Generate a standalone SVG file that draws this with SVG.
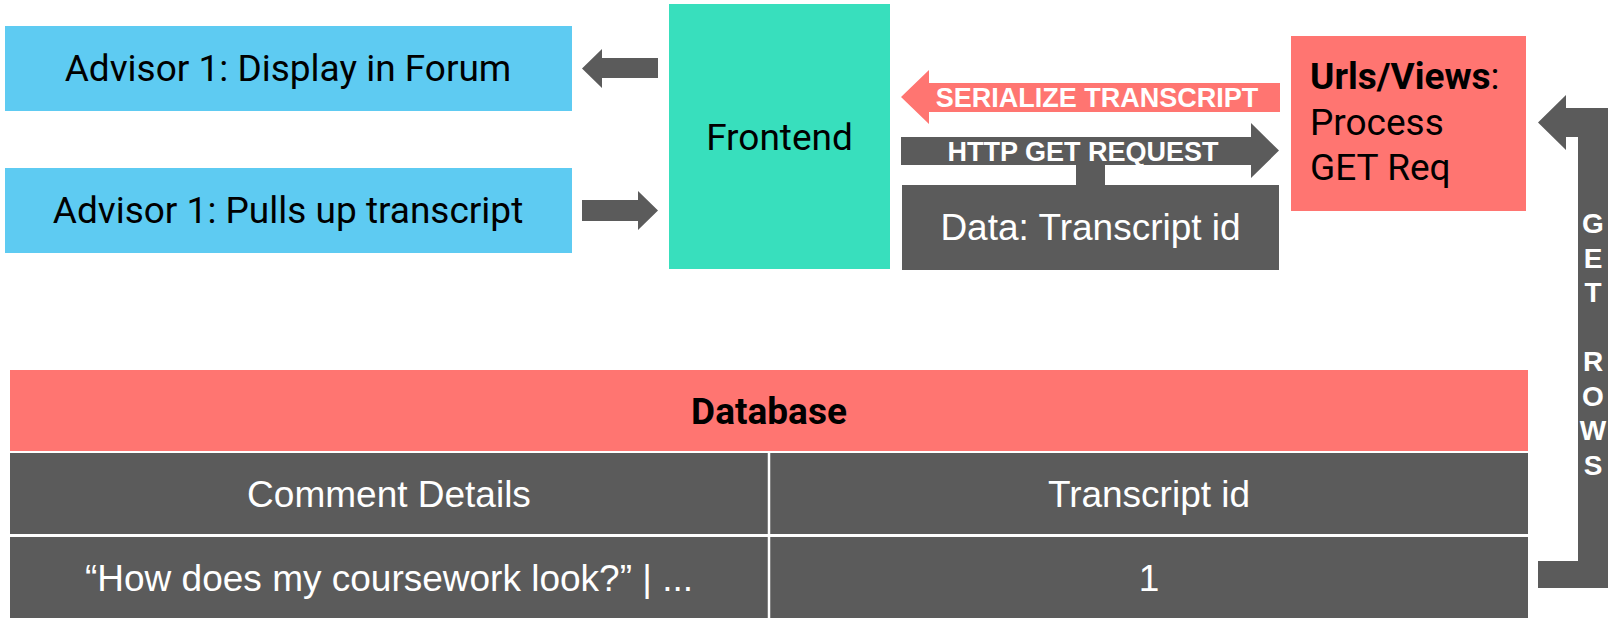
<svg xmlns="http://www.w3.org/2000/svg" width="1614" height="621" viewBox="0 0 1614 621">
<style>
.blue{fill:#5ECBF2}
.green{fill:#38DFBD}
.salmon{fill:#FF7571}
.dark{fill:#5B5B5B}
.t{font-family:Roboto,"Liberation Sans",sans-serif;font-size:37px;fill:#000}
.w{font-family:"Liberation Sans",Arial,sans-serif;font-size:37px;fill:#fff;text-anchor:middle}
.lbl{font-family:"Liberation Sans",Arial,sans-serif;font-size:27px;font-weight:bold;fill:#fff;text-anchor:middle}
.vl{font-family:"Liberation Sans",Arial,sans-serif;font-size:28px;font-weight:bold;fill:#fff;text-anchor:middle}
.c{text-anchor:middle}
.sep{stroke:#fff;stroke-width:2.5}
</style>
<rect width="1614" height="621" fill="#fff"/>
<g id="advisor-display">
<rect class="blue" x="5" y="26" width="567" height="85"/>
<text class="t c" x="288" y="81">Advisor 1: Display in Forum</text>
</g>
<g id="advisor-pulls">
<rect class="blue" x="5" y="168" width="567" height="85"/>
<text class="t c" x="288" y="223">Advisor 1: Pulls up transcript</text>
</g>
<g id="frontend">
<rect class="green" x="669" y="4" width="221" height="265"/>
<text class="t c" x="779.5" y="150">Frontend</text>
</g>
<g id="data-box">
<rect class="dark" x="902" y="185" width="377" height="85"/>
<text class="w" x="1090.5" y="240">Data: Transcript id</text>
</g>
<g id="urls-views">
<rect class="salmon" x="1291" y="36" width="235" height="175"/>
<text class="t" x="1310" y="89"><tspan font-weight="bold">Urls/Views</tspan>:</text>
<text class="t" x="1310" y="134.5">Process</text>
<text class="t" x="1310" y="180">GET Req</text>
</g>
<g id="database">
<rect class="salmon" x="10" y="370" width="1518" height="81"/>
<text class="t c" x="769" y="423.5" font-weight="bold">Database</text>
<rect class="dark" x="10" y="453" width="1518" height="81"/>
<rect class="dark" x="10" y="537" width="1518" height="81"/>
<line class="sep" x1="769" y1="453" x2="769" y2="618"/>
<text class="w" x="389" y="506.5">Comment Details</text>
<text class="w" x="1149" y="506.5">Transcript id</text>
<text class="w" x="389" y="590.5">“How does my coursework look?” | ...</text>
<text class="w" x="1149" y="590.5">1</text>
</g>
<g id="connectors">
<polygon class="dark" points="582,68.5 602,49 602,58 658,58 658,78 602,78 602,88"/>
<polygon class="dark" points="582,200 638,200 638,191 658,210.5 638,230 638,221 582,221"/>
<polygon class="salmon" points="901,97 929,70 929,83 1280,83 1280,112 929,112 929,124"/>
<text class="lbl" x="1097" y="107">SERIALIZE TRANSCRIPT</text>
<polygon class="dark" points="901,137 1251,137 1251,123 1279,150.5 1251,178 1251,165 901,165"/>
<text class="lbl" x="1083" y="161">HTTP GET REQUEST</text>
<rect class="dark" x="1076" y="164" width="29" height="22"/>
<polygon class="dark" points="1538,122.5 1566,95 1566,108 1608,108 1608,588 1538,588 1538,561 1578,561 1578,137 1566,137 1566,150"/>
<g class="vl">
<text x="1593" y="233">G</text>
<text x="1593" y="267.5">E</text>
<text x="1593" y="302">T</text>
<text x="1593" y="371">R</text>
<text x="1593" y="405.5">O</text>
<text x="1593" y="440">W</text>
<text x="1593" y="474.5">S</text>
</g>
</g>
</svg>
